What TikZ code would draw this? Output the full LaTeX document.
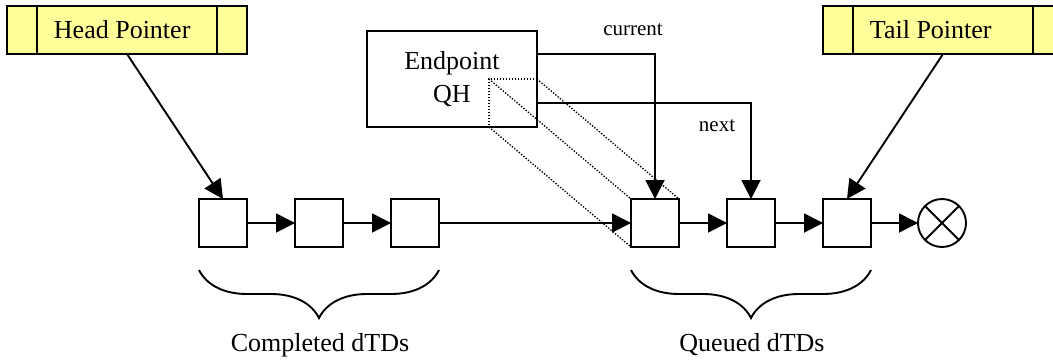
\documentclass[tikz,border=0pt]{standalone}
\usepackage{fontspec}
\setmainfont{Liberation Serif}
\usepackage{tikz}
\usetikzlibrary{positioning,arrows.meta,decorations.pathreplacing}
\definecolor{PtrYellow}{HTML}{FFFF99}

\begin{document}
\begin{tikzpicture}[x=1pt,y=-1pt,>={Triangle[length=19pt,width=19pt]},node distance=48pt,line width=1.9pt]
  \tikzstyle{dtd}=[draw,minimum size=48pt,inner sep=0pt,outer sep=0pt]
  \tikzstyle{ptr}=[draw,fill=PtrYellow,minimum width=240pt,minimum height=48pt,inner sep=0pt,outer sep=0pt]
  \tikzstyle{dotline}=[line width=1.3pt,dash pattern=on 1.4pt off 1.6pt]
  \tikzstyle{dotbox}=[draw,dotline,minimum size=48pt,inner sep=0pt,outer sep=0pt]
  \tikzstyle{big}=[font=\fontsize{26}{33}\selectfont]
  \tikzstyle{small}=[font=\fontsize{21}{25}\selectfont]
  \useasboundingbox (0,0) rectangle (1053,362);
  \fill[white] (0,0) rectangle (1053,362);
  % list of dTDs
  \node[dtd] (c1) at (223,223) {};
  \node[dtd,right=of c1] (c2) {};
  \node[dtd,right=of c2] (c3) {};
  \node[dtd,right=192pt of c3] (q1) {};
  \node[dtd,right=of q1] (q2) {};
  \node[dtd,right=of q2] (q3) {};
  \node[draw,circle,minimum size=48pt,inner sep=0pt,outer sep=0pt,right=47pt of q3] (nul) {};
  \draw (nul.north west) -- (nul.south east);
  \draw (nul.north east) -- (nul.south west);
  \draw[->] (c1) -- (c2);
  \draw[->] (c2) -- (c3);
  \draw[->] (c3) -- (q1);
  \draw[->] (q1) -- (q2);
  \draw[->] (q2) -- (q3);
  \draw[->] (q3) -- (nul);
  % head and tail pointers
  \node[ptr] (hp) at (127,30) {};
  \draw ([xshift=30pt]hp.north west) -- ([xshift=30pt]hp.south west);
  \draw ([xshift=-30pt]hp.north east) -- ([xshift=-30pt]hp.south east);
  \node[big,anchor=west,inner sep=0pt] (hpt) at ([xshift=46pt]hp.west) {Head Pointer};
  \node[ptr] (tp) at (943,30) {};
  \draw ([xshift=30pt]tp.north west) -- ([xshift=30pt]tp.south west);
  \draw ([xshift=-30pt]tp.north east) -- ([xshift=-30pt]tp.south east);
  \node[big,anchor=west,inner sep=0pt] (tpt) at ([xshift=46pt]tp.west) {Tail Pointer};
  \draw[->] (hp.south) -- (c1.north);
  \draw[->] (tp.south) -- (q3.north);
  % endpoint queue head
  \node[draw,big,align=center,minimum width=170pt,minimum height=96pt,outer sep=0pt] (qh) at (452,79) {Endpoint\\QH};
  \node[dotbox,anchor=south east] (qhs) at (qh.south east) {};
  \draw[dotline] (qhs.north west) -- (q1.north west);
  \draw[dotline] (qhs.north east) -- (q1.north east);
  \draw[dotline] (qhs.south west) -- (q1.south west);
  \draw[->] ([yshift=25pt]qh.east) -| (q1.north);
  \draw[->] ([yshift=-24pt]qh.east) -| (q2.north);
  \node[small] (cur) at (633,30) {current};
  \node[small] (nxt) at (717,126) {next};
  % braces
  \draw[decorate,decoration={brace,mirror,amplitude=48pt}] ([yshift=-23pt]c1.south west) -- ([yshift=-23pt]c3.south east);
  \draw[decorate,decoration={brace,mirror,amplitude=48pt}] ([yshift=-23pt]q1.south west) -- ([yshift=-23pt]q3.south east);
  \node[big] (cdone) at (320,345) {Completed dTDs};
  \node[big] (qdone) at (752,345) {Queued dTDs};
\end{tikzpicture}
\end{document}
